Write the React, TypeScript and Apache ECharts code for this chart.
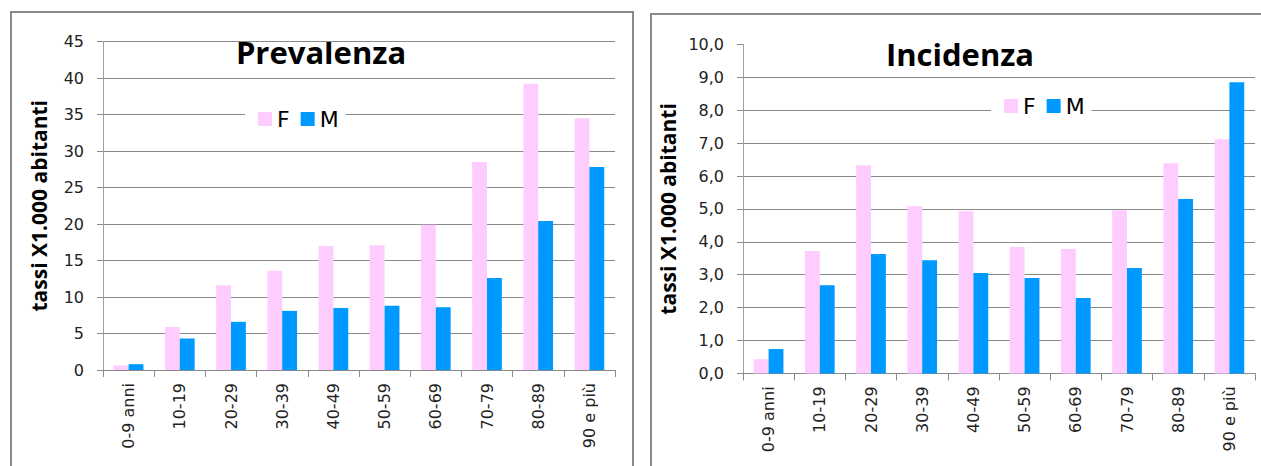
import React, { useEffect, useRef } from "react";
import * as echarts from "echarts";

// Age groups shared by both panels
const categories = [
  "0-9 anni",
  "10-19",
  "20-29",
  "30-39",
  "40-49",
  "50-59",
  "60-69",
  "70-79",
  "80-89",
  "90 e più",
];

// Prevalence rates per 1,000 inhabitants
const prevalenzaF = [0.6, 5.9, 11.6, 13.6, 17.0, 17.1, 19.9, 28.5, 39.2, 34.5];
const prevalenzaM = [0.8, 4.3, 6.6, 8.1, 8.5, 8.8, 8.6, 12.6, 20.4, 27.8];

// Incidence rates per 1,000 inhabitants
const incidenzaF = [0.43, 3.72, 6.33, 5.08, 4.93, 3.84, 3.78, 4.96, 6.39, 7.12];
const incidenzaM = [0.74, 2.68, 3.63, 3.44, 3.05, 2.9, 2.29, 3.2, 5.3, 8.85];

// Value-axis ranges
const prevalenzaAxis = { min: 0, max: 45, interval: 5 };
const incidenzaAxis = { min: 0, max: 10, interval: 1 };

const seriesNames = ["F", "M"];
const colorF = "#FFCCFF";
const colorM = "#0099FF";
const axisName = "tassi X1.000 abitanti";

const tickFont = "DejaVu Sans";
const titleFont = "Open Sans";
const gridColor = "#8a8a8a";

function valueAxis(
  gridIndex: number,
  range: { min: number; max: number; interval: number },
  decimals: boolean,
  hideTop: boolean,
  nameGap: number
) {
  const lineCount = Math.round((range.max - range.min) / range.interval) + 1;
  const splitColors: string[] = [];
  for (let i = 0; i < lineCount; i++) {
    splitColors.push(hideTop && i === lineCount - 1 ? "rgba(0,0,0,0)" : gridColor);
  }
  return {
    type: "value",
    gridIndex,
    min: range.min,
    max: range.max,
    interval: range.interval,
    name: axisName,
    nameLocation: "middle",
    nameGap,
    nameRotate: 90,
    nameTextStyle: {
      fontFamily: titleFont,
      fontWeight: "bold",
      fontSize: 21,
      color: "#000",
    },
    axisLine: { show: true, lineStyle: { color: "#a0a0a0", width: 1 } },
    axisTick: { show: true, length: 6, lineStyle: { color: gridColor } },
    axisLabel: {
      margin: 19,
      fontFamily: tickFont,
      fontSize: 16,
      color: "#222",
      formatter: (v: number) => (decimals ? v.toFixed(1).replace(".", ",") : String(v)),
    },
    splitLine: { show: true, lineStyle: { color: splitColors, width: 1 } },
  };
}

function categoryAxis(gridIndex: number) {
  return {
    type: "category",
    gridIndex,
    data: categories,
    boundaryGap: true,
    axisLine: { show: true, lineStyle: { color: gridColor, width: 1 } },
    axisTick: { show: true, interval: 0, length: 7, alignWithLabel: false, lineStyle: { color: gridColor } },
    axisLabel: {
      interval: 0,
      rotate: 90,
      margin: 13,
      fontFamily: tickFont,
      fontSize: 16,
      color: "#222",
    },
  };
}

function barSeries(name: string, data: number[], color: string, axisIndex: number) {
  return {
    type: "bar",
    name,
    data,
    xAxisIndex: axisIndex,
    yAxisIndex: axisIndex,
    barGap: "0%",
    barCategoryGap: "42%",
    itemStyle: { color },
    emphasis: { disabled: true },
  };
}

function legend(left: number, top: number) {
  return {
    data: seriesNames,
    left,
    top,
    orient: "horizontal",
    backgroundColor: "#fff",
    padding: [3, 7, 3, 13],
    itemWidth: 14,
    itemHeight: 14,
    itemGap: 11,
    icon: "rect",
    textStyle: { fontFamily: tickFont, fontSize: 22, color: "#000" },
  };
}

export default function App() {
  const ref = useRef<HTMLDivElement>(null);

  useEffect(() => {
    if (!ref.current) return;
    const chart = echarts.init(ref.current, null, { renderer: "svg" });
    chart.setOption({
      animation: false,
      backgroundColor: "#fff",
      grid: [
        { left: 103, top: 41.5, width: 512, height: 328.5 },
        { left: 743, top: 44.4, width: 512, height: 329 },
      ],
      xAxis: [categoryAxis(0), categoryAxis(1)],
      yAxis: [
        valueAxis(0, prevalenzaAxis, false, false, 54),
        valueAxis(1, incidenzaAxis, true, true, 65),
      ],
      legend: [legend(245, 105), legend(991, 92)],
      series: [
        barSeries("F", prevalenzaF, colorF, 0),
        barSeries("M", prevalenzaM, colorM, 0),
        barSeries("F", incidenzaF, colorF, 1),
        barSeries("M", incidenzaM, colorM, 1),
      ],
      graphic: [
        {
          type: "rect",
          shape: { x: 11, y: 12, width: 622, height: 500 },
          style: { fill: "none", stroke: gridColor, lineWidth: 2 },
          silent: true,
          z: -1,
        },
        {
          type: "rect",
          shape: { x: 651, y: 14, width: 700, height: 500 },
          style: { fill: "none", stroke: gridColor, lineWidth: 2 },
          silent: true,
          z: -1,
        },
        {
          type: "text",
          x: 321,
          y: 52,
          style: {
            text: "Prevalenza",
            fontFamily: titleFont,
            fontWeight: "bold",
            fontSize: 31,
            fill: "#000",
            textAlign: "center",
            textVerticalAlign: "middle",
          },
        },
        {
          type: "text",
          x: 960,
          y: 54,
          style: {
            text: "Incidenza",
            fontFamily: titleFont,
            fontWeight: "bold",
            fontSize: 31,
            fill: "#000",
            textAlign: "center",
            textVerticalAlign: "middle",
          },
        },
      ],
    });
    return () => chart.dispose();
  }, []);

  return (
    <div
      ref={ref}
      style={{ position: "fixed", left: 0, top: 0, width: 1261, height: 466, background: "#fff" }}
    />
  );
}
